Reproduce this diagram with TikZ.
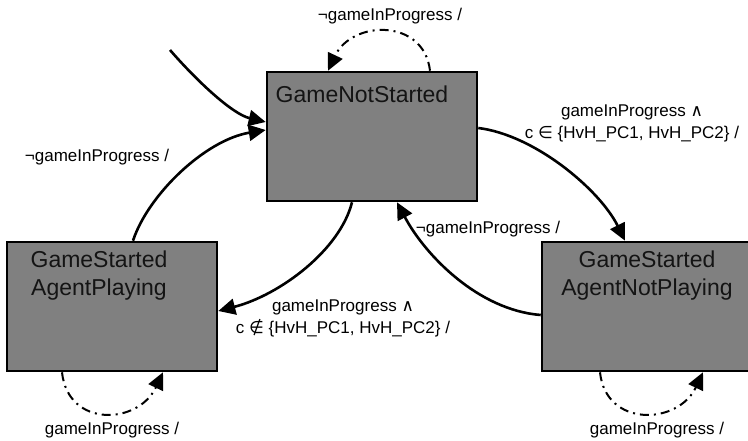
\documentclass[tikz,border=0pt]{standalone}
\usepackage{fontspec}
\setmainfont{Liberation Sans}
\newfontfamily\symfont{DejaVu Sans}
\usetikzlibrary{arrows.meta}

\definecolor{statefill}{RGB}{128,128,128}
\definecolor{textdark}{RGB}{20,20,20}

\tikzset{
  state/.style={draw=black, line width=2.6pt, fill=statefill,
    minimum width=210pt, minimum height=129pt, inner sep=0pt},
  trans/.style={line width=2.6pt, -{Triangle[length=17pt,width=16pt]}},
  selfloop/.style={line width=2pt, dash pattern=on 9pt off 5pt on 2pt off 5pt,
    -{Triangle[length=17pt,width=16pt]}},
  guard/.style={font=\fontsize{17}{22}\selectfont, inner sep=0pt, align=center},
  statetext/.style={font=\fontsize{23}{28}\selectfont, text=textdark,
    inner sep=0pt, align=center}
}

\newcommand{\landsym}{{\symfont\char"2227}}
\newcommand{\insym}{{\symfont\char"2208}}
\newcommand{\notinsym}{{\symfont\char"2209}}

\begin{document}
\begin{tikzpicture}[x=1pt,y=-1pt]
\useasboundingbox (0,0) rectangle (748,440);
\clip (0,0) rectangle (748,440);

% states
\node[state] (gns)   at (372,136.5) {};
\node[state] (gsap)  at (112,306.5) {};
\node[state] (gsanp) at (647,306.5) {};

% state names (base = baseline of the last line)
\node[statetext, anchor=base] (gnsname) at (362,102) {GameNotStarted};
\node[statetext, anchor=base] (gsapname) at (99,295) {GameStarted\\AgentPlaying};
\node[statetext, anchor=base] (gsanpname) at (647,295) {GameStarted\\AgentNotPlaying};

% initial transition
\coordinate (init) at (170,50);
\draw[trans] (init) .. controls (196,80) and (232,114) .. ([yshift=14.5pt]gns.west);

% transitions between states
\draw[trans] ([xshift=21pt]gsap.north) .. controls (148,195) and (205,140) .. ([yshift=6.5pt]gns.west);
\draw[trans] ([yshift=8.5pt]gns.east) .. controls (535,135) and (600,190) .. ([xshift=-22pt]gsanp.north);
\draw[trans] ([yshift=-8.5pt]gsanp.west) .. controls (478,310) and (425,255) .. ([xshift=25pt]gns.south);
\draw[trans] ([xshift=-20pt]gns.south) .. controls (340,250) and (280,295) .. ([yshift=-4.5pt]gsap.east);

% self loops
\draw[selfloop] ([xshift=58pt]gns.north) .. controls (424,18) and (352,20) .. ([xshift=-44pt]gns.north);
\draw[selfloop] ([xshift=-50pt]gsap.south) .. controls (68,428) and (138,425) .. ([xshift=51pt]gsap.south);
\draw[selfloop] ([xshift=-47pt]gsanp.south) .. controls (606,428) and (678,425) .. ([xshift=56pt]gsanp.south);

% guards
\node[guard, anchor=base] (g1) at (390,20) {¬gameInProgress /};
\node[guard, anchor=base] (g2) at (97,161) {¬gameInProgress /};
\node[guard, anchor=base] (g3) at (632,138) {gameInProgress \landsym\\c \insym\ \{HvH\_PC1, HvH\_PC2\} /};
\node[guard, anchor=base] (g4) at (488,233) {¬gameInProgress /};
\node[guard, anchor=base] (g5) at (343,333) {gameInProgress \landsym\\c \notinsym\ \{HvH\_PC1, HvH\_PC2\} /};
\node[guard, anchor=base] (g6) at (112,434) {gameInProgress /};
\node[guard, anchor=base] (g7) at (657,434) {gameInProgress /};
\end{tikzpicture}
\end{document}
